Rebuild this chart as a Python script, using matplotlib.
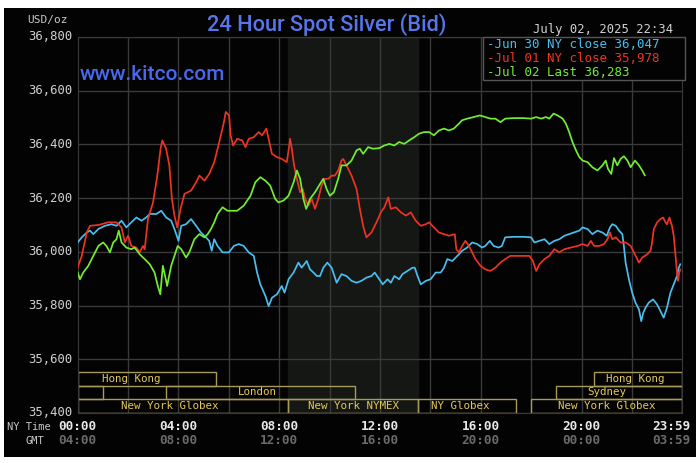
import matplotlib.pyplot as plt
from matplotlib.patches import Rectangle

# data (NY time in hours, price in USD/oz)
jun30_h = [0, 0.16, 0.36, 0.49, 0.62, 0.82, 1.08, 1.34, 1.54, 1.74, 1.93, 2.13, 2.33, 2.53, 2.72, 2.86,
           3.12, 3.32, 3.51, 3.71, 3.84, 4.0, 4.11, 4.3, 4.5, 4.7, 4.89, 5.09, 5.22, 5.32, 5.42, 5.55,
           5.75, 6.0, 6.2, 6.39, 6.59, 6.79, 6.99, 7.12, 7.25, 7.45, 7.58, 7.71, 7.91, 8.1, 8.21, 8.37,
           8.57, 8.76, 8.89, 9.09, 9.22, 9.36, 9.49, 9.62, 9.75, 9.91, 10.08, 10.28, 10.47, 10.67, 10.87,
           11.07, 11.26, 11.46, 11.66, 11.79, 11.97, 12.11, 12.3, 12.43, 12.57, 12.76, 12.89, 13.09, 13.29,
           13.38, 13.49, 13.62, 13.82, 14.01, 14.21, 14.41, 14.54, 14.67, 14.87, 15.07, 15.26, 15.46, 15.66,
           15.86, 16.05, 16.18, 16.36, 16.51, 16.71, 16.84, 16.97, 17.3, 17.7, 18.0, 18.13, 18.33, 18.53,
           18.72, 18.92, 19.12, 19.32, 19.51, 19.71, 19.91, 20.04, 20.24, 20.43, 20.63, 20.83, 21.0, 21.13,
           21.22, 21.36, 21.49, 21.62, 21.68, 21.75, 21.88, 22.01, 22.14, 22.28, 22.37, 22.45, 22.54, 22.67,
           22.84, 23.0, 23.13, 23.26, 23.39, 23.53, 23.66, 23.79, 23.86, 23.92]
jun30_v = [36035, 36054, 36072, 36079, 36066, 36085, 36097, 36103, 36097, 36116, 36091, 36110, 36128, 36116,
           36128, 36141, 36141, 36153, 36128, 36116, 36085, 36041, 36097, 36103, 36122, 36097, 36072, 36054,
           36041, 36004, 36047, 36022, 35998, 35998, 36022, 36029, 36022, 35998, 35985, 35923, 35879, 35836,
           35798, 35829, 35842, 35873, 35848, 35898, 35923, 35960, 35941, 35966, 35935, 35923, 35910, 35910,
           35941, 35960, 35941, 35885, 35917, 35910, 35892, 35885, 35892, 35904, 35910, 35923, 35898, 35879,
           35898, 35885, 35910, 35898, 35917, 35929, 35941, 35941, 35910, 35879, 35892, 35898, 35923, 35923,
           35941, 35973, 35966, 35985, 36004, 36016, 36035, 36029, 36016, 36022, 36041, 36022, 36016, 36022,
           36054, 36056, 36056, 36054, 36035, 36041, 36047, 36029, 36041, 36047, 36060, 36066, 36072, 36079,
           36091, 36085, 36066, 36079, 36072, 36060, 36091, 36103, 36097, 36079, 36066, 36022, 35960, 35898,
           35848, 35811, 35786, 35742, 35773, 35792, 35811, 35823, 35804, 35780, 35755, 35792, 35848, 35879,
           35910, 35941, 35954]

jul01_h = [0, 0.16, 0.36, 0.49, 0.82, 1.21, 1.54, 1.74, 1.87, 2.0, 2.13, 2.33, 2.46, 2.59, 2.66, 2.79, 2.99,
           3.16, 3.29, 3.36, 3.51, 3.64, 3.74, 3.84, 3.95, 4.08, 4.24, 4.5, 4.7, 4.83, 5.03, 5.22, 5.42, 5.62,
           5.79, 5.88, 6.01, 6.07, 6.17, 6.33, 6.53, 6.66, 6.79, 6.99, 7.18, 7.32, 7.49, 7.58, 7.71, 7.91,
           8.1, 8.3, 8.39, 8.43, 8.5, 8.59, 8.7, 8.83, 8.93, 9.03, 9.16, 9.29, 9.42, 9.55, 9.68, 9.82, 9.95,
           10.08, 10.21, 10.34, 10.47, 10.54, 10.67, 10.87, 11.07, 11.2, 11.33, 11.46, 11.66, 11.86, 12.05,
           12.17, 12.33, 12.43, 12.63, 12.83, 13.03, 13.22, 13.42, 13.62, 13.82, 13.95, 14.14, 14.34, 14.54,
           14.74, 14.97, 15.03, 15.13, 15.26, 15.39, 15.53, 15.66, 15.79, 15.99, 16.18, 16.38, 16.58, 16.78,
           16.97, 17.17, 17.43, 17.7, 17.93, 18.07, 18.2, 18.33, 18.53, 18.72, 18.92, 19.12, 19.32, 19.58,
           19.84, 20.04, 20.24, 20.37, 20.5, 20.7, 20.89, 21.03, 21.13, 21.22, 21.36, 21.55, 21.75, 21.95,
           22.08, 22.28, 22.41, 22.61, 22.74, 22.8, 22.87, 23.0, 23.13, 23.24, 23.33, 23.39, 23.49, 23.59,
           23.66, 23.72, 23.79, 23.83, 23.88, 23.92]
jul01_v = [35942, 35985, 36072, 36097, 36100, 36110, 36110, 36091, 36035, 36060, 36022, 36016, 35998, 36022,
           36010, 36122, 36184, 36284, 36384, 36415, 36384, 36321, 36197, 36135, 36091, 36160, 36216, 36228,
           36259, 36284, 36265, 36290, 36334, 36409, 36477, 36521, 36508, 36434, 36396, 36421, 36415, 36390,
           36421, 36427, 36446, 36434, 36459, 36421, 36365, 36353, 36346, 36334, 36390, 36421, 36384, 36322,
           36272, 36222, 36234, 36197, 36172, 36197, 36160, 36197, 36247, 36272, 36272, 36284, 36284, 36303,
           36340, 36346, 36322, 36284, 36234, 36160, 36097, 36054, 36072, 36110, 36150, 36165, 36203, 36160,
           36166, 36147, 36135, 36147, 36116, 36097, 36103, 36110, 36091, 36072, 36066, 36060, 36066, 36010,
           35998, 36022, 36041, 36022, 35998, 35973, 35948, 35935, 35929, 35941, 35960, 35973, 35985, 35985,
           35985, 35985, 35966, 35929, 35954, 35973, 35985, 36010, 35998, 36010, 36016, 36022, 36029, 36022,
           36041, 36022, 36022, 36029, 36047, 36072, 36047, 36054, 36035, 36035, 36022, 35998, 35960, 35979,
           35991, 36004, 36035, 36085, 36110, 36122, 36128, 36110, 36103, 36128, 36097, 36060, 35998, 35923,
           35892, 35923, 35935]

jul02_h = [0, 0.09, 0.22, 0.42, 0.62, 0.82, 1.01, 1.14, 1.28, 1.41, 1.54, 1.63, 1.74, 1.93, 2.13, 2.26, 2.46,
           2.66, 2.86, 3.05, 3.18, 3.28, 3.38, 3.47, 3.55, 3.71, 3.84, 3.97, 4.11, 4.3, 4.43, 4.63, 4.83,
           5.03, 5.16, 5.29, 5.42, 5.55, 5.75, 5.95, 6.14, 6.33, 6.59, 6.86, 7.05, 7.25, 7.45, 7.64, 7.84,
           7.97, 8.17, 8.37, 8.57, 8.7, 8.83, 8.96, 9.07, 9.22, 9.42, 9.62, 9.75, 9.88, 10.01, 10.17, 10.34,
           10.47, 10.67, 10.87, 11.07, 11.2, 11.33, 11.53, 11.72, 11.97, 12.17, 12.37, 12.57, 12.76, 12.96,
           13.16, 13.36, 13.55, 13.75, 13.95, 14.14, 14.34, 14.54, 14.74, 14.93, 15.13, 15.26, 15.46, 15.72,
           15.96, 16.18, 16.38, 16.58, 16.78, 16.97, 17.3, 17.7, 18.0, 18.2, 18.39, 18.59, 18.72, 18.89,
           19.05, 19.25, 19.38, 19.51, 19.64, 19.78, 19.91, 20.04, 20.24, 20.43, 20.63, 20.83, 20.96, 21.05,
           21.18, 21.29, 21.42, 21.55, 21.68, 21.82, 21.95, 22.12, 22.28, 22.41, 22.51]
jul02_v = [35923, 35898, 35923, 35948, 35985, 36022, 36035, 36022, 35998, 36035, 36047, 36079, 36035, 36016,
           36010, 36016, 35991, 35973, 35954, 35923, 35873, 35842, 35948, 35910, 35873, 35948, 35985, 36022,
           36010, 35979, 35998, 36047, 36066, 36054, 36066, 36085, 36110, 36141, 36166, 36153, 36153, 36153,
           36172, 36209, 36259, 36278, 36265, 36247, 36197, 36184, 36191, 36209, 36259, 36303, 36272, 36197,
           36160, 36197, 36222, 36253, 36272, 36234, 36209, 36222, 36272, 36322, 36322, 36340, 36378, 36384,
           36365, 36390, 36384, 36386, 36396, 36402, 36396, 36409, 36402, 36415, 36427, 36440, 36446, 36446,
           36434, 36452, 36459, 36452, 36459, 36477, 36490, 36496, 36502, 36508, 36502, 36496, 36496, 36483,
           36496, 36498, 36498, 36496, 36502, 36496, 36502, 36496, 36515, 36508, 36496, 36477, 36446, 36409,
           36378, 36353, 36340, 36334, 36315, 36303, 36322, 36340, 36309, 36290, 36349, 36322, 36346, 36356,
           36340, 36315, 36340, 36322, 36303, 36285]

legend_labels = ["-Jun 30 NY close 36,047", "-Jul 01 NY close 35,978", "-Jul 02 Last 36,283"]
y_ticks = [36800, 36600, 36400, 36200, 36000, 35800, 35600, 35400]
ny_labels = ["00:00", "04:00", "08:00", "12:00", "16:00", "20:00", "23:59"]
gmt_labels = ["04:00", "08:00", "12:00", "16:00", "20:00", "00:00", "03:59"]

# market sessions: (name, start, end, row, label position)
sessions = [("Hong Kong", 0, 5.5, 2, 2.13), ("", 0, 1.0, 1, None), ("London", 3.5, 11.0, 1, 7.15),
            ("New York Globex", 0, 8.33, 0, 3.65), ("New York NYMEX", 8.33, 13.5, 0, 10.95),
            ("NY Globex", 13.5, 17.4, 0, 15.2), ("New York Globex", 18.0, 24, 0, 21.0),
            ("Sydney", 19.0, 24, 1, 21.0), ("Hong Kong", 20.5, 24, 2, 22.14)]

mono = "DejaVu Sans Mono"
grid_c = "#3a3a3a"

fig = plt.figure(figsize=(7, 4.63), dpi=100)
fig.patch.set_facecolor("white")
fig.add_artist(Rectangle((4 / 700, 6 / 463), 692 / 700, 449 / 463, transform=fig.transFigure,
                         facecolor="#030303", edgecolor="none", zorder=0))

ax = fig.add_axes([77.7 / 700, 50 / 463, 604.6 / 700, 376 / 463])
ax.set_facecolor("#030303")
ax.set_xlim(0, 24)
ax.set_ylim(35400, 36800)

ax.axvspan(8.33, 13.5, color="#141714", zorder=0)
for h in range(2, 24, 2):
    ax.axvline(h, color=grid_c, lw=1, zorder=1)
for v in y_ticks:
    ax.axhline(v, color=grid_c, lw=1, zorder=1)
for s in ax.spines.values():
    s.set_color(grid_c)
ax.set_xticks([])
ax.set_yticks([])

# session boxes
row_h = 51
for name, start, end, row, lx in sessions:
    y0 = 35400 + row * row_h
    ax.add_patch(Rectangle((start, y0), end - start, row_h, fill=False, edgecolor="#a89a58",
                           lw=1, zorder=2))
    if name:
        ax.text(lx, y0 + row_h / 2, name, color="#e6c85a", fontsize=7.8, family=mono,
                ha="center", va="center", zorder=3)

ax.plot(jun30_h, jun30_v, color="#48bff0", lw=1.25, zorder=4)
ax.plot(jul01_h, jul01_v, color="#ee3322", lw=1.25, zorder=5)
ax.plot(jul02_h, jul02_v, color="#72ee32", lw=1.25, zorder=6)

# legend box
leg = Rectangle((483 / 700, (463 - 80) / 463), 202 / 700, 43 / 463, transform=fig.transFigure,
                facecolor="#030303", edgecolor="#555555", lw=1, zorder=10)
fig.add_artist(leg)
for i, (lab, col) in enumerate(zip(legend_labels, ["#48bff0", "#ee3322", "#72ee32"])):
    fig.text(487 / 700, (463 - 45 - i * 13.5) / 463, lab, color=col, fontsize=9, family=mono,
             va="center", ha="left", zorder=11)

# y tick labels
for v in y_ticks:
    y = 37 + (36800 - v) * 376 / 1400
    fig.text(72 / 700, (463 - y) / 463, f"{v:,}", color="#d0d0d0", fontsize=8.8, family=mono,
             ha="right", va="center")

# x labels
xs = [0, 4, 8, 12, 16, 20, 23.55]
for h, a, b in zip(xs, ny_labels, gmt_labels):
    x = 77.7 + h * 604.6 / 24
    fig.text(x / 700, (463 - 427) / 463, a, color="#e8e8e8", fontsize=9.2, family=mono,
             weight="bold", ha="center", va="center")
    fig.text(x / 700, (463 - 441) / 463, b, color="#6a6a6a", fontsize=9.2, family=mono,
             weight="bold", ha="center", va="center")
fig.text(7 / 700, (463 - 427) / 463, "NY Time", color="#c8c8c8", fontsize=7.5, family=mono,
         ha="left", va="center")
fig.text(26 / 700, (463 - 441) / 463, "GMT", color="#c8c8c8", fontsize=7.5, family=mono,
         ha="left", va="center")

fig.text(27 / 700, (463 - 20) / 463, "USD/oz", color="#c8c8c8", fontsize=8, family=mono,
         ha="left", va="center")
fig.text(673 / 700, (463 - 30) / 463, "July 02, 2025 22:34", color="#d0d0d0", fontsize=8.8,
         family=mono, ha="right", va="center")
fig.text(327 / 700, (463 - 25) / 463, "24 Hour Spot Silver (Bid)", color="#5876ec", fontsize=15.7,
         family="Roboto", weight="medium", ha="center", va="center")
ax.text(0.004, 0.9, "www.kitco.com", transform=ax.transAxes, color="#4a68ee", fontsize=15,
        family="Roboto", weight="medium", ha="left", va="center", zorder=7)

fig.savefig("out.png", dpi=100, facecolor=fig.get_facecolor())
